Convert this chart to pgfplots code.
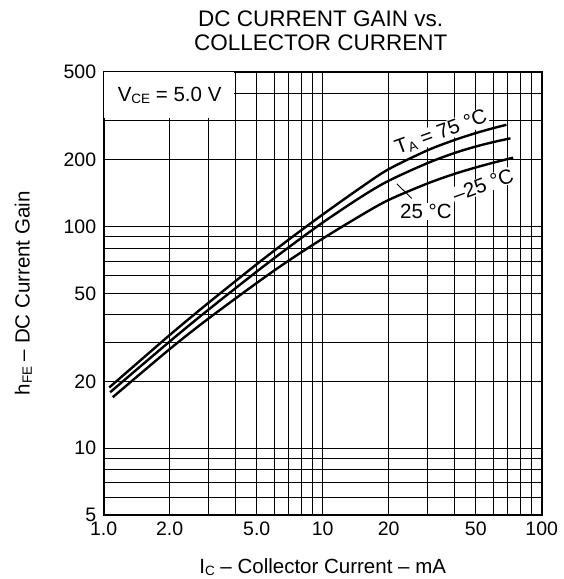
\documentclass[border=0pt]{standalone}
\usepackage{fontspec}
\setmainfont{Liberation Sans}
\usepackage{pgfplots}
\pgfplotsset{compat=1.18}
\newcommand\lbl{\fontsize{20.5}{24}\selectfont}
\newcommand\sub[1]{\raisebox{-0.2ex}{\fontsize{13.5}{14}\selectfont #1}}

\begin{document}
\begin{tikzpicture}
\begin{axis}[
  set layers,
  xmode=log, ymode=log,
  scale only axis, width=438pt, height=443.3pt,
  xmin=1, xmax=100, ymin=5, ymax=500,
  xtick={1,2,5,10,20,50,100}, xticklabels={1.0,2.0,5.0,10,20,50,100},
  ytick={5,10,20,50,100,200,500}, yticklabels={5,10,20,50,100,200,500},
  minor xtick={3,4,6,7,8,9,30,40,60,70,80,90},
  minor ytick={6,7,8,9,30,40,60,70,80,90,300,400},
  grid=both,
  major grid style={black, line width=0.9pt},
  minor grid style={black, line width=0.9pt},
  major tick length=0pt, minor tick length=0pt,
  axis line style={line width=2.2pt},
  tick label style={font=\fontsize{19.5}{22}\selectfont},
  xticklabel style={yshift=-3pt},
  yticklabel style={xshift=-4pt},
  xlabel={I\sub{C} – Collector Current – mA},
  ylabel={h\sub{FE} – DC Current Gain},
  xlabel style={font=\lbl, at={(axis description cs:0.5,0)}, anchor=base, yshift=-58pt},
  ylabel style={font=\lbl, at={(axis description cs:0,0.5)}, anchor=base, yshift=74pt},
]
% test-condition box hides the grid in the corner
\fill[white] (axis cs:1,310) rectangle (axis cs:3.93,500);
\node[font=\lbl] at (axis cs:2,390) {V\sub{CE} = 5.0 V};

% curve labels
\node[font=\lbl, fill=white, inner sep=1pt, rotate=20] at (axis cs:34.7,266) {T\sub{A} = 75 °C};
\node[font=\lbl, fill=white, inner sep=1pt, rotate=20] at (axis cs:54,154) {–25 °C};
\node[font=\lbl, fill=white, inner sep=1pt] at (axis cs:29.6,117) {25 °C};
\draw[line width=0.9pt] (axis cs:25.5,134) -- (axis cs:21.8,156);

% T_A = 75 C
\addplot[line width=2.4pt, smooth] coordinates {
  (1.06,18.8) (2,32.4) (3,45.2) (5,67.7) (7,87.4) (10,113.4)
  (15,150.6) (20,181.6) (30,220.6) (40,246) (50,264.2) (60,278) (69,288)
};
% T_A = 25 C
\addplot[line width=2.4pt, smooth] coordinates {
  (1.07,17.9) (2,30.3) (3,42.1) (5,62.7) (7,80.7) (10,104.3)
  (15,136.3) (20,161) (30,193.2) (40,214.9) (50,229.8) (60,240.5) (72,250.3)
};
% T_A = -25 C
\addplot[line width=2.4pt, smooth] coordinates {
  (1.1,17) (2,28) (3,38.4) (5,55.7) (7,70.3) (10,88.3)
  (15,112.6) (20,131.9) (30,156.4) (40,173) (50,184.9) (60,194.2) (74,204.7)
};
\end{axis}
\node[font=\fontsize{22.5}{26}\selectfont, anchor=base] at (217pt,488.8pt) {DC CURRENT GAIN vs.};
\node[font=\fontsize{22.5}{26}\selectfont, anchor=base] at (217pt,464pt) {COLLECTOR CURRENT};
\pgfresetboundingbox
\path[use as bounding box] (-103.7pt,-64pt) rectangle (460.3pt,515pt);
\end{tikzpicture}
\end{document}
